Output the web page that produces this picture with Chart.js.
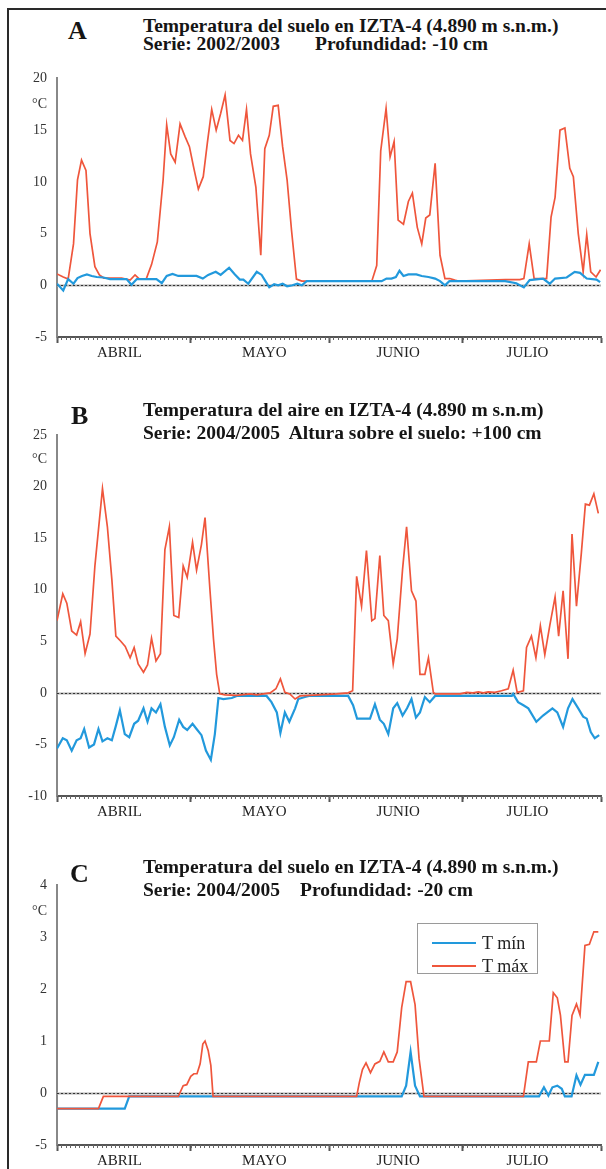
<!DOCTYPE html>
<html>
<head>
<meta charset="utf-8">
<script src="https://cdn.jsdelivr.net/npm/chart.js@4.4.0/dist/chart.umd.min.js"></script>
<style>
  body { margin: 0; width: 606px; height: 1169px; overflow: hidden; background: #fff; position: relative; font-family: "Liberation Serif", serif; }
  .frame { position: absolute; left: 7px; top: 8px; width: 700px; height: 1300px; border-left: 2px solid #2a2a2a; border-top: 2px solid #2a2a2a; }
  canvas { position: absolute; left: 8px; }
  .letter { position: absolute; font-weight: bold; font-size: 26px; line-height: 1; color: #151515; }
  .title { position: absolute; left: 143px; font-weight: bold; font-size: 19.5px; line-height: 1; white-space: pre; color: #151515; }
  .legend { position: absolute; left: 417px; top: 923px; width: 121px; height: 51px; box-sizing: border-box; border: 1px solid #9a9a9a; background: #fff; }
  .legend .ln { position: absolute; left: 14px; width: 44px; height: 2px; }
  .legend .tx { position: absolute; left: 64px; font-size: 18px; line-height: 1; color: #222; white-space: pre; }
</style>
</head>
<body>
<div class="frame"></div>

<canvas id="chartA" width="598" height="310" style="top:60px"></canvas>
<canvas id="chartB" width="598" height="414" style="top:415px"></canvas>
<canvas id="chartC" width="598" height="313" style="top:865px"></canvas>

<div class="letter" style="left:68px;top:18px">A</div>
<div class="title" style="top:16px">Temperatura del suelo en IZTA-4 (4.890 m s.n.m.)</div>
<div class="title" style="top:34px">Serie: 2002/2003</div>
<div class="title" style="top:34px;left:315px">Profundidad: -10 cm</div>

<div class="letter" style="left:71px;top:403px">B</div>
<div class="title" style="top:400px">Temperatura del aire en IZTA-4 (4.890 m s.n.m)</div>
<div class="title" style="top:423px">Serie: 2004/2005  Altura sobre el suelo: +100 cm</div>

<div class="letter" style="left:70px;top:861px">C</div>
<div class="title" style="top:857px">Temperatura del suelo en IZTA-4 (4.890 m s.n.m.)</div>
<div class="title" style="top:880px">Serie: 2004/2005</div>
<div class="title" style="top:880px;left:300px">Profundidad: -20 cm</div>

<div class="legend" id="legendC"></div>

<script>
// months on the x axis (day index from 1 April)
const monthNames = ['ABRIL', 'MAYO', 'JUNIO', 'JULIO'];
const monthEdges = [0, 30, 61, 91, 122];
const monthLabelDays = [14, 46.5, 76.5, 105.5];

// y ticks per panel (C: bottom tick is printed as "-5" in the original)
const yTicksA = [-5, 0, 5, 10, 15, 20];
const yTicksB = [-10, -5, 0, 5, 10, 15, 20, 25];
const yTicksC = [-1, 0, 1, 2, 3, 4];
const yLabelsC = ['-5', '0', '1', '2', '3', '4'];
const unitA = 17.5, unitB = 22.6, unitC = 3.5;

// series: [day, °C]
const aMin = [[0,0.15],[1.4,-0.5],[2.5,0.6],[3.7,0.15],[4.6,0.7],[5.6,0.9],[6.7,1.05],[7.8,0.9],[8.9,0.8],[10.4,0.75],[11.9,0.6],[15.6,0.6],[16.7,0.05],[17.9,0.6],[22.3,0.6],[23.5,0.2],[24.6,0.9],[25.9,1.1],[27.2,0.9],[31.3,0.9],[32.7,0.65],[33.9,1.0],[35.6,1.3],[36.7,1.0],[38.6,1.7],[39.9,1.05],[41,0.55],[41.8,0.55],[42.9,0.15],[44.8,1.3],[45.9,1.0],[46.6,0.5],[47.6,-0.2],[48.7,0.1],[49.6,0],[50.6,0.15],[51.6,-0.1],[52.8,0],[53.9,0.15],[54.9,0],[56,0.4],[72.8,0.4],[73.9,0.65],[75,0.65],[76,0.8],[76.8,1.4],[77.7,0.9],[78.8,1.05],[80.6,1.05],[81.8,0.9],[83.3,0.8],[84.8,0.65],[85.9,0.4],[87,0],[88,0.4],[100.5,0.4],[103,0.2],[104.7,-0.2],[106,0.5],[109,0.65],[110.5,0.15],[111.7,0.65],[114.3,0.75],[116.1,1.3],[117.3,1.2],[118.8,0.65],[121,0.55],[121.8,0.3]];
const aMax = [[0,1.1],[1.4,0.8],[2.5,0.6],[3.7,4],[4.6,10.2],[5.5,12.1],[6.5,11.1],[7.4,5],[8.5,1.8],[9.5,1.0],[10.5,0.7],[14.5,0.7],[16.4,0.5],[17.5,1.0],[18.5,0.6],[20,0.6],[21.2,2],[22.5,4.2],[23.8,10.2],[24.6,15.5],[25.5,12.7],[26.5,11.9],[27.6,15.6],[28.7,14.4],[29.7,13.4],[30.6,11.5],[31.7,9.3],[32.8,10.5],[33.7,13.7],[34.7,17],[35.7,15],[36.7,16.6],[37.7,18.4],[38.8,14],[39.7,13.7],[40.7,14.5],[41.6,14],[42.5,17],[43.4,12.7],[44.6,9.5],[45.7,2.9],[46.6,13.2],[47.6,14.5],[48.5,17.3],[49.6,17.4],[50.6,13.4],[51.6,10.2],[52.6,5.3],[53.7,0.6],[54.9,0.4],[56,0.4],[70.6,0.4],[71.7,1.9],[72.6,13],[73.8,17.1],[74.7,12.4],[75.6,13.9],[76.5,6.3],[77.7,5.9],[78.8,8.1],[79.7,8.9],[80.8,5.6],[81.8,4],[82.7,6.5],[83.6,6.8],[84.8,11.8],[85.9,2.9],[87,0.65],[88.1,0.65],[89.2,0.5],[90,0.4],[100.5,0.55],[103.8,0.55],[104.7,0.65],[105.9,4],[107,0.65],[109.8,0.65],[110.8,6.6],[111.7,8.5],[112.8,15],[113.9,15.2],[115,11.3],[115.8,10.5],[116.9,5],[118,1.3],[118.8,4.9],[119.7,1.3],[120.9,0.8],[121.9,1.5]];

const bMin = [[0,-5.4],[1.3,-4.4],[2.2,-4.6],[3.3,-5.6],[4.4,-4.6],[5.3,-4.4],[6.1,-3.5],[7.2,-5.3],[8.3,-5.0],[9.3,-3.5],[10.2,-4.7],[11.3,-4.4],[12.3,-4.6],[13.2,-3.2],[14.1,-1.7],[15.2,-4.0],[16.2,-4.3],[17.3,-3.0],[18.2,-2.7],[19.4,-1.5],[20.3,-2.8],[21.2,-1.5],[22.2,-1.9],[23.2,-1.1],[24.2,-3.3],[25.3,-5.1],[26.2,-4.3],[27.4,-2.6],[28.3,-3.3],[29.2,-3.6],[30.4,-3.0],[31.3,-3.5],[32.4,-4.1],[33.4,-5.6],[34.5,-6.5],[35.4,-4.0],[36.2,-0.5],[37.3,-0.6],[39.2,-0.5],[40.3,-0.3],[47,-0.3],[48.1,-0.9],[49.3,-1.9],[50.1,-3.9],[51.1,-1.9],[52.1,-2.8],[53.4,-1.5],[54.1,-0.6],[55.6,-0.4],[56.5,-0.3],[65.3,-0.3],[66.4,-1.2],[67.3,-2.5],[70.2,-2.5],[71.3,-1.1],[72.4,-2.6],[73.3,-3.0],[74.3,-4.0],[75.4,-1.5],[76.3,-1.0],[77.5,-2.2],[78.5,-1.5],[79.5,-0.6],[80.5,-2.4],[81.4,-1.9],[82.5,-0.4],[83.6,-0.9],[84.8,-0.3],[102,-0.3],[102.3,-0.1],[103.4,-0.9],[104.6,-1.2],[105.7,-1.5],[107.5,-2.8],[109,-2.2],[111.1,-1.5],[112.2,-1.9],[113.5,-3.3],[114.6,-1.5],[115.6,-0.6],[116.9,-1.5],[118,-2.3],[118.8,-2.5],[119.7,-3.8],[120.6,-4.4],[121.6,-4.1]];
const bMax = [[0,7.0],[1.3,9.6],[2.2,8.7],[3.3,6.0],[4.4,5.6],[5.3,6.9],[6.3,3.8],[7.4,5.7],[8.5,12.3],[10.2,19.8],[11.3,16.1],[12.3,11],[13.2,5.5],[14.3,5.0],[15.3,4.5],[16.4,3.4],[17.3,4.4],[18.2,2.8],[19.4,2.0],[20.3,2.7],[21.2,5.3],[22.2,3.1],[23.2,3.8],[24.2,13.9],[25.2,16.1],[26.2,7.5],[27.3,7.3],[28.3,12.3],[29.2,11.2],[30.4,14.6],[31.3,11.9],[32.4,14.4],[33.2,17],[34.3,10],[35.1,5.2],[35.8,1.8],[36.5,-0.1],[37.7,-0.2],[40.3,-0.25],[43.3,-0.1],[44.8,-0.2],[47.8,0],[49.1,0.4],[50.1,1.35],[51.1,0.05],[52.2,-0.1],[53.4,-0.6],[54.5,-0.3],[62.7,-0.1],[65.3,0],[66.3,0.2],[67.2,11.3],[68.3,8.4],[69.4,13.8],[70.6,7.0],[71.3,7.2],[72.4,13.3],[73.3,7.5],[74.3,7.0],[75.4,2.8],[76.3,5.2],[77.5,12.0],[78.4,16.1],[79.5,9.9],[80.5,8.9],[81.4,1.8],[82.5,1.8],[83.3,3.4],[84.4,0.05],[84.8,-0.1],[90.4,-0.1],[91.9,0.05],[93.3,0],[94.5,0.1],[95.6,0],[96.7,0.1],[98.2,0.05],[99.7,0.2],[101.2,0.4],[102.3,2.2],[103.2,0.05],[104.6,0.2],[105.3,4.4],[106.4,5.5],[107.4,3.4],[108.4,6.5],[109.4,3.7],[110.5,6.5],[111.7,9.3],[112.5,5.5],[113.5,9.9],[114.6,3.3],[115.5,15.4],[116.5,8.4],[117.6,13.6],[118.5,18.3],[119.4,18.2],[120.4,19.3],[121.4,17.4]];

const cMin = [[0,-0.3],[15.2,-0.3],[16.2,-0.065],[77.3,-0.065],[78.3,0.14],[79.3,0.79],[80.3,0.14],[81.4,-0.065],[108.1,-0.065],[109.2,0.11],[110.2,-0.05],[111.1,0.11],[112.2,0.14],[113.2,0.08],[113.9,-0.065],[115.4,-0.065],[116.5,0.34],[117.4,0.16],[118.4,0.35],[120.4,0.35],[121.4,0.6]];
const cMax = [[0,-0.3],[9.3,-0.3],[10.4,-0.065],[27.2,-0.065],[28.3,0.14],[29.1,0.16],[30,0.32],[30.7,0.37],[31.4,0.37],[32.1,0.56],[32.7,0.94],[33.2,1.0],[33.9,0.82],[34.5,0.53],[35,-0.065],[67.2,-0.065],[67.8,0.2],[68.5,0.45],[69.3,0.58],[70.3,0.39],[71.3,0.56],[72.4,0.61],[73.3,0.79],[74.3,0.6],[75.4,0.6],[76.3,0.79],[77.3,1.64],[78.3,2.14],[79.3,2.14],[80.3,1.7],[81.2,0.66],[82.3,-0.065],[104.6,-0.065],[105.7,0.6],[107.5,0.6],[108.4,1.0],[110.4,1.0],[111.3,1.93],[112.2,1.83],[112.9,1.5],[113.9,0.6],[114.6,0.6],[115.5,1.49],[116.5,1.71],[117.3,1.5],[118.4,2.84],[119.4,2.86],[120.4,3.1],[121.4,3.1]];

const blue = '#2299dc';
const red = '#ef563c';
const serif = 'Liberation Serif';

// dotted day ticks under the x axis and dashed zero line
const axisExtras = {
  id: 'axisExtras',
  beforeDatasetsDraw(chart) {
    const { ctx, chartArea, scales: { y } } = chart;
    const y0 = Math.round(y.getPixelForValue(0)) + 0.5;
    ctx.save();
    ctx.strokeStyle = '#b0b0b0';
    ctx.lineWidth = 2;
    ctx.beginPath(); ctx.moveTo(chartArea.left, y0); ctx.lineTo(chartArea.right, y0); ctx.stroke();
    ctx.strokeStyle = '#333';
    ctx.lineWidth = 1;
    ctx.setLineDash([2, 2]);
    ctx.beginPath(); ctx.moveTo(chartArea.left, y0); ctx.lineTo(chartArea.right, y0); ctx.stroke();
    ctx.restore();
  },
  afterDraw(chart) {
    const { ctx, chartArea, scales: { x } } = chart;
    ctx.save();
    ctx.strokeStyle = '#666';
    ctx.lineWidth = 1;
    for (let d = 0; d <= monthEdges[monthEdges.length - 1]; d++) {
      const px = Math.round(x.getPixelForValue(d)) + 0.5;
      ctx.beginPath(); ctx.moveTo(px, chartArea.bottom); ctx.lineTo(px, chartArea.bottom + 3); ctx.stroke();
    }
    ctx.restore();
  }
};

function makePanel(id, ticks, labels, unitAt, tMin, tMax, minOnTop, padTop) {
  const tickVals = ticks.concat([unitAt]);
  return new Chart(document.getElementById(id), {
    type: 'line',
    data: {
      datasets: [
        { label: 'T mín', data: tMin.map(([x, y]) => ({ x, y })), borderColor: blue, borderWidth: 2.2, order: minOnTop ? 0 : 1 },
        { label: 'T máx', data: tMax.map(([x, y]) => ({ x, y })), borderColor: red, borderWidth: 1.7, order: minOnTop ? 1 : 0 }
      ]
    },
    options: {
      responsive: false,
      animation: false,
      layout: { padding: { top: padTop, right: 5, bottom: 3, left: 0 } },
      elements: { point: { radius: 0 }, line: { tension: 0 } },
      plugins: { legend: { display: false }, tooltip: { enabled: false }, title: { display: false } },
      scales: {
        x: {
          type: 'linear',
          min: monthEdges[0],
          max: monthEdges[monthEdges.length - 1],
          afterBuildTicks: s => { s.ticks = monthEdges.concat(monthLabelDays).sort((a, b) => a - b).map(v => ({ value: v })); },
          afterFit: s => { s.height = 30; },
          grid: {
            drawOnChartArea: false,
            tickLength: 6,
            tickWidth: 2,
            tickColor: c => (c.tick && monthEdges.includes(c.tick.value)) ? '#555' : 'rgba(0,0,0,0)'
          },
          border: { color: '#555', width: 2 },
          ticks: {
            autoSkip: false,
            maxRotation: 0,
            padding: 1,
            color: '#222',
            font: { family: serif, size: 15 },
            callback: v => { const i = monthLabelDays.indexOf(v); return i >= 0 ? monthNames[i] : ''; }
          }
        },
        y: {
          min: ticks[0],
          max: ticks[ticks.length - 1],
          afterBuildTicks: s => { s.ticks = tickVals.map(v => ({ value: v })); },
          afterFit: s => { s.width = 49; },
          grid: { display: false, drawTicks: false },
          border: { display: true, color: '#888', width: 2 },
          ticks: {
            padding: 10,
            color: '#333',
            font: { family: serif, size: 14 },
            callback: v => {
              if (v === unitAt) return '°C';
              const i = ticks.indexOf(v);
              return labels ? labels[i] : String(v);
            }
          }
        }
      }
    },
    plugins: [axisExtras]
  });
}

const chartA = makePanel('chartA', yTicksA, null, unitA, aMin, aMax, true, 18);
const chartB = makePanel('chartB', yTicksB, null, unitB, bMin, bMax, false, 20);
const chartC = makePanel('chartC', yTicksC, yLabelsC, unitC, cMin, cMax, false, 20);

// legend box for panel C, built from the chart's datasets
const legendBox = document.getElementById('legendC');
chartC.data.datasets.forEach((ds, i) => {
  const ln = document.createElement('div');
  ln.className = 'ln';
  ln.style.top = (18 + i * 23) + 'px';
  ln.style.background = ds.borderColor;
  const tx = document.createElement('div');
  tx.className = 'tx';
  tx.style.top = (10 + i * 23) + 'px';
  tx.textContent = ds.label;
  legendBox.appendChild(ln);
  legendBox.appendChild(tx);
});
</script>
</body>
</html>
